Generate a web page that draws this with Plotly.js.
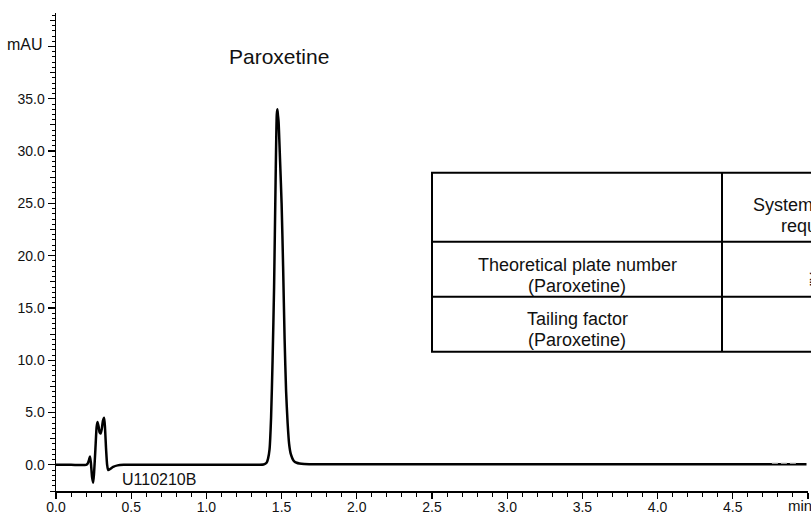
<!DOCTYPE html>
<html>
<head>
<meta charset="utf-8">
<script src="https://cdn.plot.ly/plotly-3.0.1.min.js"></script>
<style>
html,body{margin:0;padding:0;background:#fff;}
#chart{width:811px;height:515px;}
</style>
</head>
<body>
<div id="chart"></div>
<script>
// ---- data ----
var timeMin = [0.00, 0.10, 0.20, 0.210, 0.220, 0.226, 0.232, 0.240, 0.247, 0.253, 0.262, 0.270, 0.276, 0.283, 0.290, 0.297, 0.304, 0.312, 0.320, 0.326, 0.333, 0.340, 0.347, 0.360, 0.380, 0.410, 0.450, 0.80, 1.00, 1.30, 1.38, 1.40, 1.41, 1.42, 1.43, 1.44, 1.45, 1.46, 1.468, 1.472, 1.476, 1.480, 1.49, 1.50, 1.51, 1.52, 1.53, 1.54, 1.55, 1.56, 1.58, 1.60, 1.65, 1.80, 2.50, 3.00, 3.50, 4.00, 4.50, 4.99];
var signalMAU = [0.00, 0.00, 0.00, 0.10, 0.50, 0.80, 0.20, -1.20, -1.70, -0.80, 1.50, 3.60, 4.10, 3.70, 3.10, 3.00, 3.40, 4.20, 4.50, 3.50, 1.50, 0.00, -0.50, -0.40, -0.20, -0.05, 0.00, 0.02, 0.02, 0.02, 0.03, 0.20, 0.60, 1.50, 4.50, 10.0, 17.0, 27.0, 33.5, 34.0, 33.4, 32.8, 29.0, 25.0, 19.0, 12.0, 7.00, 4.00, 2.00, 1.10, 0.40, 0.20, 0.08, 0.06, 0.06, 0.06, 0.06, 0.06, 0.06, 0.06];
var noiseTime = [4.76, 4.93];
var noiseMAU = [0.14, 0.14];

var xTickVals = [0.0, 0.5, 1.0, 1.5, 2.0, 2.5, 3.0, 3.5, 4.0, 4.5, 5.0];
var xTickText = ["0.0", "0.5", "1.0", "1.5", "2.0", "2.5", "3.0", "3.5", "4.0", "4.5", ""];
var yTickVals = [0, 5, 10, 15, 20, 25, 30, 35, 40];
var yTickText = ["0.0", "5.0", "10.0", "15.0", "20.0", "25.0", "30.0", "35.0", ""];

var yUnit = "mAU";
var xUnit = "min";
var peakName = "Paroxetine";
var sampleName = "U110210B";
var tableHeader = ["System suitability", "requirements"];
var tableRow1 = ["Theoretical plate number", "(Paroxetine)"];
var tableRow2 = ["Tailing factor", "(Paroxetine)"];
var tableRow1Value = "\u2267 2000";

// ---- layout helpers (pixel -> paper) ----
var L = 56, R = 3, T = 13, B = 23.5, W = 811, H = 515;
var pw = W - L - R, ph = H - T - B;
function xp(px){ return (px - L) / pw; }
function yp(py){ return (H - B - py) / ph; }

var FONT = "Liberation Sans, Arial, sans-serif";
var INK = "#111";

function txt(text, px, py, size, xanchor){
  return {text: text, xref: "paper", yref: "paper", x: xp(px), y: yp(py),
    xanchor: xanchor || "center", yanchor: "middle", showarrow: false,
    font: {family: FONT, size: size, color: INK}};
}
function line(x0, y0, x1, y1){
  return {type: "line", xref: "paper", yref: "paper", x0: xp(x0), y0: yp(y0), x1: xp(x1), y1: yp(y1),
    line: {color: "#000", width: 2}};
}

var traces = [
  {x: timeMin, y: signalMAU, type: "scatter", mode: "lines",
   line: {color: "#000", width: 2.5, shape: "spline", smoothing: 0.6}, hoverinfo: "skip"},
  {x: noiseTime, y: noiseMAU, type: "scatter", mode: "lines",
   line: {color: "#9a9a9a", width: 1.2, dash: "6px,3px"}, hoverinfo: "skip"},
  {x: [0], y: [0], yaxis: "y2", type: "scatter", mode: "markers", marker: {opacity: 0}, hoverinfo: "skip"}
];

var TS = 18; // table text size

var layout = {
  width: W, height: H,
  margin: {l: L, r: R, t: T, b: B, pad: 0},
  paper_bgcolor: "#fff", plot_bgcolor: "#fff",
  showlegend: false,
  font: {family: FONT, size: 14, color: INK},
  xaxis: {
    range: [0, 5], tickmode: "array", tickvals: xTickVals, ticktext: xTickText,
    ticks: "outside", ticklen: 6, tickwidth: 1.2, tickcolor: "#000",
    showline: true, linecolor: "#000", linewidth: 1.5,
    showgrid: false, zeroline: false, fixedrange: true,
    tickfont: {family: FONT, size: 14, color: INK},
    ticklabelstandoff: -3,
    minor: {tickmode: "linear", tick0: 0, dtick: 0.1, ticks: "outside", ticklen: 4, tickwidth: 1, tickcolor: "#000", showgrid: false}
  },
  yaxis: {
    range: [-2.5, 43.2], tickmode: "array", tickvals: yTickVals, ticktext: yTickText,
    ticks: "outside", ticklen: 7, tickwidth: 1.2, tickcolor: "#000",
    showline: true, linecolor: "#000", linewidth: 1.5,
    showgrid: false, zeroline: false, fixedrange: true,
    tickfont: {family: FONT, size: 14, color: INK},
    minor: {tickmode: "linear", tick0: 0, dtick: 0.5, ticks: "outside", ticklen: 3, tickwidth: 1, tickcolor: "#000", showgrid: false}
  },
  yaxis2: {
    overlaying: "y", side: "left", range: [-2.5, 43.2], tickmode: "linear", tick0: 0, dtick: 2.5,
    ticks: "outside", ticklen: 5, tickwidth: 1, tickcolor: "#000",
    showticklabels: false, showline: false, showgrid: false, zeroline: false, fixedrange: true
  },
  shapes: [
    {type: "rect", xref: "paper", yref: "paper", x0: xp(432), x1: xp(900), y0: yp(352), y1: yp(173),
     line: {color: "#000", width: 2}, fillcolor: "#fff", layer: "above"},
    line(432, 242, 900, 242),
    line(432, 297, 900, 297),
    line(722, 173, 722, 352)
  ],
  annotations: [
    txt(yUnit, 45, 45, 16, "right"),
    txt(xUnit, 786, 506, 15, "left"),
    txt(peakName, 279, 57, 21),
    txt(sampleName, 120, 480, 16, "left"),
    txt(tableHeader[0], 751, 205, TS, "left"),
    txt(tableHeader[1], 779, 226, TS, "left"),
    txt(tableRow1[0], 577, 265, TS),
    txt(tableRow1[1], 577, 286, TS),
    txt(tableRow2[0], 577, 319, TS),
    txt(tableRow2[1], 577, 340, TS),
    txt(tableRow1Value, 806, 278, TS, "left")
  ]
};

Plotly.newPlot("chart", traces, layout, {staticPlot: true, displayModeBar: false});
</script>
</body>
</html>
